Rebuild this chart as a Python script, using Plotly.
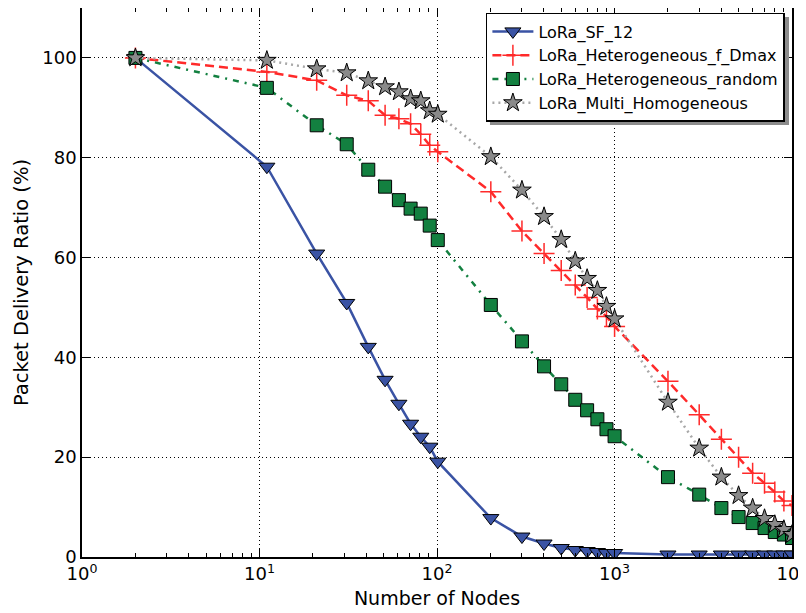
import plotly.graph_objects as go

nodes = [2, 11, 21, 31, 41, 51, 61, 71, 81, 91, 101, 201, 301, 401, 501, 601, 701, 801, 901, 1001,
         2001, 3001, 4001, 5001, 6001, 7001, 8001, 9001, 10001]

sf12 = [100, 78.2, 60.8, 50.9, 42.1, 35.5, 30.7, 26.7, 24.1, 22.1, 19.1, 7.8, 4.1, 2.7, 1.8, 1.4, 1.2, 1.0, 0.8, 0.8,
        0.5, 0.5, 0.5, 0.5, 0.5, 0.5, 0.5, 0.5, 0.5]
het_dmax = [100, 97.2, 95.5, 92.5, 91.4, 88.5, 87.8, 86.8, 84.7, 82.5, 81.2, 73.2, 65.3, 60.8, 57.4, 54.5, 52.0, 49.7, 48.2, 46.2,
            35.2, 28.5, 23.6, 20.0, 16.8, 14.8, 13.0, 11.2, 10.3]
het_random = [100, 94.0, 86.5, 82.7, 77.6, 74.2, 71.5, 69.8, 68.8, 66.4, 63.5, 50.5, 43.2, 38.2, 34.6, 31.5, 29.4, 27.6, 25.6, 24.2,
              16.0, 12.5, 9.8, 8.0, 6.8, 5.8, 5.0, 4.5, 3.8]
multi_homo = [100, 99.5, 97.8, 97.0, 95.4, 94.2, 93.2, 91.8, 91.4, 89.4, 88.7, 80.2, 73.5, 68.2, 63.6, 59.3, 55.8, 53.4, 50.2, 47.7,
              31.0, 21.8, 16.0, 12.3, 9.8, 7.7, 6.5, 5.5, 4.5]

names = ["LoRa_SF_12", "LoRa_Heterogeneous_f_Dmax", "LoRa_Heterogeneous_random", "LoRa_Multi_Homogeneous"]

x_tickvals = [1, 10, 100, 1000, 10000]
x_ticktext = ["10<sup>0</sup>", "10<sup>1</sup>", "10<sup>2</sup>", "10<sup>3</sup>", "10<sup>4</sup>"]
x_minor = [m * d for d in [1, 10, 100, 1000] for m in range(2, 10)]
y_tickvals = [0, 20, 40, 60, 80, 100]

FONT = "DejaVu Sans"

fig = go.Figure()

fig.add_trace(go.Scatter(
    x=nodes, y=sf12, name=names[0], mode="lines+markers",
    line=dict(color="#3a53a4", width=2.5),
    marker=dict(symbol="triangle-down", size=14, color="#3a53a4", line=dict(color="black", width=1)),
))
fig.add_trace(go.Scatter(
    x=nodes, y=het_dmax, name=names[1], mode="lines+markers",
    line=dict(color="#ff2a2a", width=2.5, dash="9px,5px"),
    marker=dict(symbol="cross-thin", size=15, color="#ff2a2a", line=dict(color="#ff2a2a", width=1.5)),
))
fig.add_trace(go.Scatter(
    x=nodes, y=het_random, name=names[2], mode="lines+markers",
    line=dict(color="#138040", width=2.5, dash="6px,6px,2px,6px"),
    marker=dict(symbol="square", size=13, color="#138040", line=dict(color="black", width=1)),
))
fig.add_trace(go.Scatter(
    x=nodes, y=multi_homo, name=names[3], mode="lines+markers",
    line=dict(color="#a8a8a8", width=2.5, dash="2px,4px"),
    marker=dict(symbol="star", size=14, color="#8a8a8a", line=dict(color="black", width=1)),
))

# legend shadow
fig.add_shape(type="rect", xref="paper", yref="paper",
              x0=0.5746, x1=0.9958, y0=0.787, y1=0.9836,
              fillcolor="#8c8c8c", line=dict(width=0), layer="above")

fig.update_layout(
    width=798, height=605,
    margin=dict(l=74, r=14, t=0, b=55.5),
    paper_bgcolor="white", plot_bgcolor="white",
    font=dict(family=FONT, size=18, color="black"),
    showlegend=True,
    legend=dict(
        x=0.990, y=0.9909, xanchor="right", yanchor="top",
        bgcolor="white", bordercolor="black", borderwidth=1.5,
        font=dict(family=FONT, size=16, color="black"),
        itemwidth=41,
    ),
    xaxis=dict(
        type="log", range=[0, 4], automargin=False,
        tickmode="array", tickvals=x_tickvals, ticktext=x_ticktext,
        ticklabeloverflow="allow",
        ticks="inside", ticklen=8, tickwidth=1, tickcolor="black",
        minor=dict(tickmode="array", tickvals=x_minor, ticks="inside", ticklen=4, tickcolor="black", showgrid=False),
        showline=True, linecolor="black", linewidth=1.5, mirror="ticks",
        showgrid=True, gridcolor="black", gridwidth=1, griddash="1px,3px",
        zeroline=False,
        title=dict(text="Number of Nodes", font=dict(family=FONT, size=19), standoff=8),
        tickfont=dict(family=FONT, size=18),
    ),
    yaxis=dict(
        range=[0, 110], automargin=False,
        tickmode="array", tickvals=y_tickvals,
        ticks="inside", ticklen=8, tickwidth=1, tickcolor="black",
        showline=True, linecolor="black", linewidth=1.5, mirror="ticks",
        showgrid=True, gridcolor="black", gridwidth=1, griddash="1px,3px",
        zeroline=False,
        title=dict(text="Packet Delivery Ratio (%)", font=dict(family=FONT, size=19.5), standoff=8),
        tickfont=dict(family=FONT, size=18),
    ),
)

fig.write_html("out.html")
